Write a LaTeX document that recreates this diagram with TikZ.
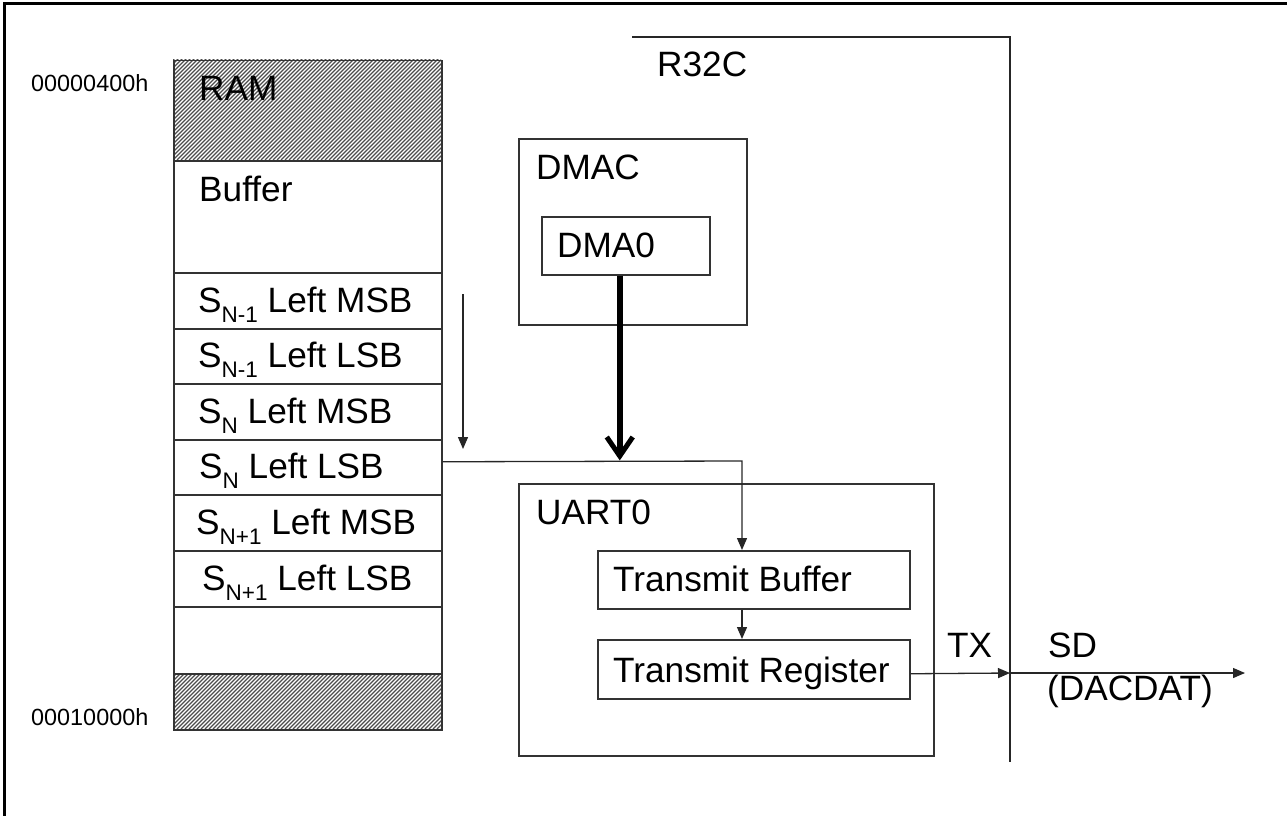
\documentclass[tikz,border=0pt]{standalone}
\usepackage{fontspec}
\setmainfont{Liberation Sans}
\usetikzlibrary{arrows.meta}
\newcommand{\fbig}{\fontsize{35.2}{40}\selectfont}
\newcommand{\fsmall}{\fontsize{23.4}{27}\selectfont}
\newcommand{\subs}[1]{\raisebox{-10pt}{\fontsize{22.5}{24}\selectfont #1}}
\begin{document}
\begin{tikzpicture}[x=1pt,y=-1pt,
 cell/.style={draw=black!80, line width=1.5pt, minimum width=268pt, inner sep=0pt, anchor=north west},
 box/.style={draw=black!80, line width=1.5pt, inner sep=0pt, anchor=north west},
 lbl/.style={anchor=base west, inner sep=0pt, font=\fbig},
 addr/.style={anchor=base west, inner sep=0pt, font=\fsmall},
 conn/.style={draw=black!85, line width=1.3pt, -{Triangle[length=12pt,width=10pt]}},
 plain/.style={draw=black!85, line width=1.5pt},
 bus/.style={draw=black, line width=6pt},
 barb/.style={draw=black, line width=5pt, line join=miter, line cap=butt},
 hatch/.style={draw=black!70, line width=1.2pt}]
\useasboundingbox (0,0) rectangle (1287,816);
% outer frame
\draw[line width=2.6pt] (4.7,822) -- (4.7,3.7) -- (1292,3.7);
% hatching
\foreach \yt/\yb in {60/160, 673/729} {
 \begin{scope}
 \clip (173,\yt) rectangle (441,\yb);
 \foreach \i in {-120,-116,...,440} \draw[hatch] (173+\i,\yb) -- ++(120,-120);
 \end{scope}
}
% memory column
\node[cell, minimum height=100pt] (ram) at (173,60) {};
\node[cell, minimum height=112pt] (buf) at (173,160) {};
\node[cell, minimum height=56pt] (r1) at (173,272) {};
\node[cell, minimum height=55pt] (r2) at (173,328) {};
\node[cell, minimum height=56pt] (r3) at (173,383) {};
\node[cell, minimum height=55pt] (r4) at (173,439) {};
\node[cell, minimum height=56pt] (r5) at (173,494) {};
\node[cell, minimum height=56pt] (r6) at (173,550) {};
\node[cell, minimum height=67pt] (emp) at (173,606) {};
\node[cell, minimum height=56pt] (bot) at (173,673) {};
% addresses
\node[addr] (a1) at (31,91) {00000400h};
\node[addr] (a2) at (31,725) {00010000h};
% column texts
\node[lbl] (tram) at (199,100) {RAM};
\node[lbl] (tbuffer) at (199,201) {Buffer};
\node[lbl] (t1) at (198,312) {S\subs{N-1} Left MSB};
\node[lbl] (t2) at (198,367) {S\subs{N-1} Left LSB};
\node[lbl] (t3) at (198,423) {S\subs{N} Left MSB};
\node[lbl] (t4) at (199,478) {S\subs{N} Left LSB};
\node[lbl] (t5) at (196,534) {S\subs{N+1} Left MSB};
\node[lbl] (t6) at (202,590) {S\subs{N+1} Left LSB};
% R32C boundary
\coordinate (rb1) at (632,37);
\coordinate (rb2) at (1010,37);
\coordinate (rb3) at (1010,762);
\draw[plain] (rb1) -- (rb2) -- (rb3);
\node[lbl] (r32c) at (657,77) {R32C};
% DMAC
\node[box, minimum width=228pt, minimum height=186pt] (dmac) at (518,138) {};
\node[lbl] (tdmac) at (536,179) {DMAC};
\node[box, minimum width=168pt, minimum height=58pt] (dma0) at (541,216) {};
\node[lbl] (tdma0) at (557,257) {DMA0};
% UART0
\node[box, minimum width=415pt, minimum height=272pt] (uart) at (518,483) {};
\node[lbl] (tuart) at (536,524) {UART0};
\node[box, minimum width=312pt, minimum height=58pt] (tb) at (597,550) {};
\node[lbl] (ttb) at (613,591) {Transmit Buffer};
\node[box, minimum width=312pt, minimum height=59pt] (tr) at (597,639) {};
\node[lbl] (ttr) at (613,682) {Transmit Register};
% signal labels
\node[lbl] (tx) at (947,657) {TX};
\node[lbl] (sd) at (1048,657) {SD};
\node[lbl] (dacdat) at (1047,700) {(DACDAT)};
% connectors
\coordinate (va1) at (463,294);
\coordinate (va2) at (463,449);
\draw[conn] (va1) -- (va2);
\coordinate (hstart) at ([yshift=5.5pt]r4.east);
\coordinate (turn) at (742,461);
\draw[conn] (hstart) -- (turn) -- (tb.north -| turn);
% DMA bus arrow (thick, open V head)
\coordinate (bustop) at ([xshift=-6pt]dma0.south);
\coordinate (bustip) at (bustop |- turn);
\draw[bus] (bustop) -- ([yshift=8pt]bustip);
\draw[barb] ([xshift=-13pt,yshift=24pt]bustip) -- ([yshift=5pt]bustip) -- ([xshift=13pt,yshift=24pt]bustip);
\draw[conn] (tb.south -| turn) -- (tr.north -| turn);
\coordinate (txin) at (1010,673);
\coordinate (sdout) at (1245,673);
\draw[conn] ([yshift=-4.5pt]tr.east) -- (txin);
\draw[conn] (txin) -- (sdout);
\end{tikzpicture}
\end{document}
